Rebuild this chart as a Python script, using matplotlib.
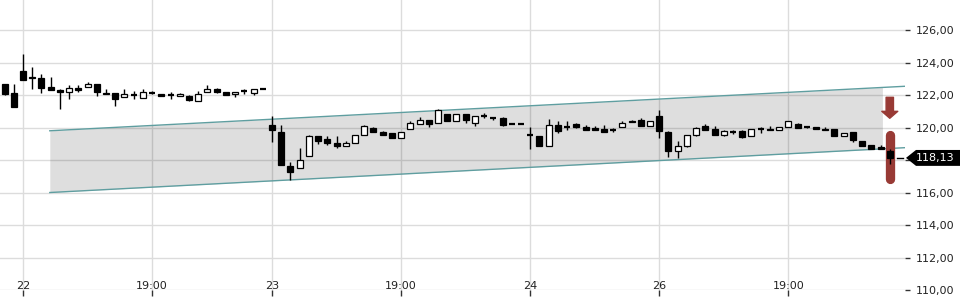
import matplotlib
matplotlib.use("Agg")
import matplotlib.pyplot as plt
import numpy as np
from matplotlib import patches
from matplotlib.ticker import FuncFormatter
from matplotlib.transforms import blended_transform_factory

# 15-minute candles (index = candle slot)
opens = [122.70, 122.10, 123.48, 123.10, 123.03, 122.47, 122.33, 122.17, 122.42, 122.47,
         122.66, 122.10, 122.12, 121.86, 122.01, 121.83, 122.15, 122.06, 121.99, 121.92,
         121.92, 121.61, 122.17, 122.39, 122.18, 122.04, 122.23, 122.14, 122.35, 120.17,
         119.75, 117.63, 117.52, 118.22, 119.46, 119.28, 119.06, 118.87, 119.06, 119.57,
         120.00, 119.73, 119.65, 119.37, 119.88, 120.20, 120.47, 120.29, 120.84, 120.43,
         120.84, 120.26, 120.75, 120.61, 120.57, 120.23, 120.23, 119.52, 119.47, 118.85,
         120.18, 120.03, 120.23, 120.02, 120.00, 119.94, 119.87, 120.06, 120.43, 120.49,
         120.10, 120.74, 119.71, 118.54, 118.85, 119.55, 120.10, 119.92, 119.55, 119.72,
         119.77, 119.45, 119.93, 119.92, 119.86, 120.06, 120.23, 120.07, 120.02, 119.94,
         119.92, 119.47, 119.71, 119.16, 118.95, 118.83, 118.58]
highs = [122.70, 122.66, 124.54, 123.72, 123.27, 123.11, 122.35, 122.62, 122.62, 122.82,
         122.66, 122.39, 122.12, 122.35, 122.23, 122.35, 122.26, 122.08, 122.18, 122.12,
         122.00, 122.25, 122.60, 122.43, 122.18, 122.18, 122.35, 122.35, 122.35, 120.68,
         120.18, 117.86, 118.73, 119.55, 119.50, 119.45, 119.50, 119.20, 119.55, 120.17,
         120.06, 119.80, 119.65, 119.75, 120.39, 120.62, 120.47, 121.15, 120.84, 120.84,
         120.84, 120.68, 120.90, 120.61, 120.62, 120.23, 120.23, 120.02, 119.47, 120.53,
         120.43, 120.39, 120.30, 120.18, 120.10, 120.18, 119.98, 120.43, 120.49, 120.57,
         120.39, 121.05, 119.77, 119.16, 119.55, 120.06, 120.22, 120.12, 119.86, 119.84,
         119.86, 119.92, 120.06, 120.10, 120.02, 120.39, 120.30, 120.12, 120.02, 120.02,
         119.92, 119.67, 119.75, 119.16, 118.95, 118.95, 118.69]
lows = [122.00, 121.26, 122.90, 122.39, 122.14, 122.29, 121.16, 121.74, 122.20, 122.47,
        121.94, 122.06, 121.32, 121.86, 121.74, 121.83, 122.06, 121.96, 121.77, 121.92,
        121.63, 121.61, 122.17, 122.10, 121.98, 121.86, 122.08, 122.00, 122.35, 119.10,
        117.70, 116.78, 117.52, 118.22, 119.00, 118.95, 118.75, 118.87, 119.06, 119.57,
        119.70, 119.55, 119.37, 119.37, 119.88, 120.20, 120.04, 120.29, 120.41, 120.43,
        120.26, 120.12, 120.60, 120.47, 120.10, 120.23, 120.23, 118.65, 118.85, 118.85,
        119.67, 119.86, 119.95, 119.86, 119.86, 119.71, 119.74, 120.06, 120.31, 120.10,
        120.10, 119.37, 118.17, 118.11, 118.80, 119.45, 119.86, 119.55, 119.45, 119.63,
        119.35, 119.45, 119.65, 119.86, 119.86, 120.06, 119.98, 119.98, 119.92, 119.86,
        119.47, 119.47, 119.14, 118.85, 118.69, 118.65, 117.77]
closes = [122.08, 121.26, 122.90, 123.05, 122.45, 122.29, 122.20, 122.43, 122.34, 122.70,
          122.20, 122.06, 121.77, 122.08, 122.00, 122.18, 122.14, 121.96, 121.98, 122.06,
          121.69, 122.06, 122.39, 122.17, 122.02, 122.18, 122.22, 122.35, 122.35, 119.86,
          117.70, 117.28, 117.99, 119.46, 119.20, 119.03, 118.85, 119.06, 119.55, 120.08,
          119.75, 119.55, 119.37, 119.75, 120.25, 120.49, 120.20, 121.06, 120.41, 120.84,
          120.49, 120.68, 120.74, 120.60, 120.18, 120.23, 120.23, 119.51, 118.85, 120.18,
          119.77, 120.02, 120.02, 119.86, 119.86, 119.71, 119.86, 120.29, 120.31, 120.10,
          120.39, 119.77, 118.54, 118.85, 119.55, 119.98, 119.86, 119.55, 119.77, 119.71,
          119.40, 119.92, 119.92, 119.86, 120.02, 120.39, 119.98, 120.06, 119.92, 119.86,
          119.47, 119.67, 119.24, 118.85, 118.69, 118.65, 118.13]

tick_pos = [2, 16, 29, 43, 57, 71, 85]
tick_labels = ["22", "19:00", "23", "19:00", "24", "26", "19:00"]
price_ticks = [110, 112, 114, 116, 118, 120, 122, 124, 126]

# trend channel: (start idx, end idx, price at start, price at end)
channel_x = (4.9, 97.65)
channel_upper = (119.80, 122.54)
channel_lower = (116.00, 118.76)
channel_fill_end = 95.2

# signal marks on the last candle
arrow_top, arrow_tip = 121.86, 120.57
bar_top, bar_bottom = 119.57, 116.83

RED = "#983a35"
TEAL = "#5f9ea0"
GRID = "#dcdcdc"

x = np.arange(len(opens))
o, h, l, c = map(np.array, (opens, highs, lows, closes))
last_price = c[-1]

fig = plt.figure(figsize=(9.6, 3.0), dpi=100)
ax = fig.add_axes([0, 10 / 300, 905 / 960, 290 / 300])
ax.set_xlim(-0.5, 97.65)
ax.set_ylim(110, 127.85)

# channel
cx = np.array(channel_x)
cu = np.array(channel_upper)
cl = np.array(channel_lower)
fx = np.array([cx[0], channel_fill_end])
fu = np.interp(fx, cx, cu)
fl = np.interp(fx, cx, cl)
ax.fill_between(fx, fl, fu, color="black", alpha=0.13, lw=0, zorder=1)
ax.plot(cx, cu, color=TEAL, lw=1.0, zorder=2)
ax.plot(cx, cl, color=TEAL, lw=1.0, zorder=2)

# red signal bar + arrow
last = x[-1]
ax.plot([last, last], [bar_bottom, bar_top], color=RED, lw=6.7,
        solid_capstyle="round", zorder=2.5)
ax.annotate("", xy=(last, arrow_tip), xytext=(last, arrow_top),
            arrowprops=dict(arrowstyle="simple,head_length=0.5,head_width=1.15,tail_width=0.53",
                            color=RED, mutation_scale=10, shrinkA=0, shrinkB=0), zorder=2.5)

# candles
ax.vlines(x, l, h, color="black", lw=1, zorder=3)
w = 0.65
doji = np.abs(c - o) < 0.03
up = (c > o) & ~doji
down = (c <= o) & ~doji
ax.bar(x[up], (c - o)[up], bottom=o[up], width=w, facecolor="white",
       edgecolor="black", lw=0.9, zorder=4)
ax.bar(x[down], (o - c)[down], bottom=c[down], width=w, facecolor="black",
       edgecolor="black", lw=0.9, zorder=4)
ax.hlines(c[doji], x[doji] - w / 2, x[doji] + w / 2, color="black", lw=1.6, zorder=4)


def price_fmt(v, _):
    # the price tag covers the label nearest the last price
    if abs(v - last_price) < 1.0:
        return ""
    return f"{v:.2f}".replace(".", ",")


# axes styling
for s in ax.spines.values():
    s.set_visible(False)
ax.set_xticks(tick_pos)
ax.set_xticklabels(tick_labels)
ax.set_yticks(price_ticks)
ax.yaxis.tick_right()
ax.yaxis.set_major_formatter(FuncFormatter(price_fmt))
ax.grid(True, color=GRID, lw=1)
ax.set_axisbelow(True)
ax.tick_params(axis="x", length=4.3, width=1, color="#333333", pad=-11,
               labelsize=8, labelcolor="#222222")
ax.tick_params(axis="y", length=3.5, width=1, color="#333333", pad=4,
               labelsize=8, labelcolor="#222222")

# last price tag
tr = blended_transform_factory(fig.transFigure, ax.transData)
hh = 0.49
tag = patches.Polygon([(906 / 960, last_price), (916 / 960, last_price + hh),
                       (1.0, last_price + hh), (1.0, last_price - hh),
                       (916 / 960, last_price - hh)],
                      closed=True, facecolor="black", edgecolor="none",
                      transform=tr, clip_on=False)
fig.patches.append(tag)
fig.text(935 / 960, last_price, f"{last_price:.2f}".replace(".", ","),
         transform=tr, color="white", fontsize=8, ha="center", va="center")
ax.plot([897 / 960, 903 / 960], [last_price, last_price], color="black", lw=1,
        transform=tr, clip_on=False)

fig.savefig("out.png", dpi=100)
